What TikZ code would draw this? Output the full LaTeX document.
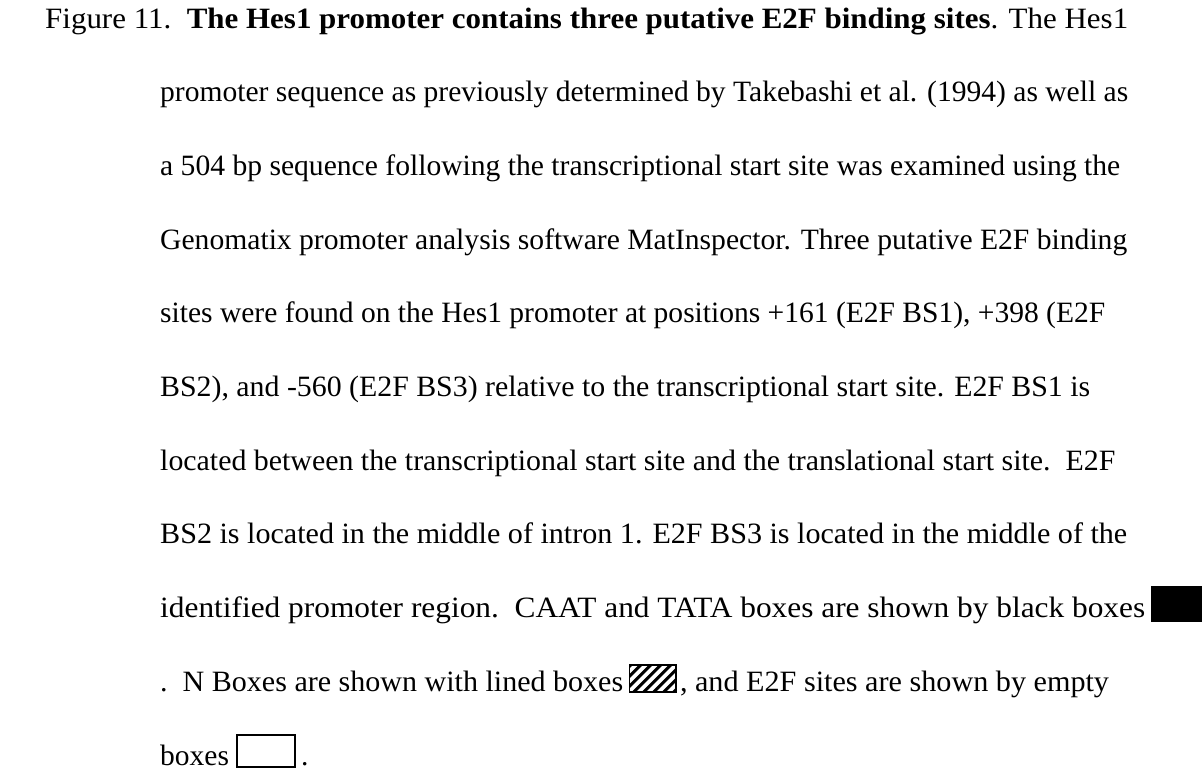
\documentclass[tikz,border=0pt]{standalone}
\usepackage{graphicx}
\usepackage{fontspec}
\setmainfont{Liberation Serif}
\newcommand{\fitline}[2]{\resizebox{#1}{\height}{#2}}
\begin{document}
\begin{tikzpicture}[x=1pt,y=-1pt,
  txt/.style={anchor=base west, inner sep=0pt, font=\fontsize{29.5}{30}\selectfont},
  blackbox/.style={fill=black, draw=none, minimum width=70pt, minimum height=36pt, inner sep=0pt, anchor=south west},
  emptybox/.style={draw=black, line width=1.6pt, fill=white, minimum width=58pt, minimum height=32pt, inner sep=0pt, anchor=south west},
  hatchbox/.style={minimum width=46pt, minimum height=27pt, inner sep=0pt, anchor=south west},
  hatchline/.style={line width=3pt},
  hatchframe/.style={line width=1.8pt}]
\useasboundingbox (0,0) rectangle (1202,777);
\node[txt] (l1) at (45,28) {\fitline{1083pt}{Figure 11.\ \ \textbf{The Hes1 promoter contains three putative E2F binding sites}. The Hes1}};
\node[txt] (l2) at (160,101.7) {\fitline{968pt}{promoter sequence as previously determined by Takebashi et al. (1994) as well as}};
\node[txt] (l3) at (160,175.4) {\fitline{960pt}{a 504 bp sequence following the transcriptional start site was examined using the}};
\node[txt] (l4) at (160,249.1) {\fitline{967pt}{Genomatix promoter analysis software MatInspector. Three putative E2F binding}};
\node[txt] (l5) at (160,322.8) {\fitline{945pt}{sites were found on the Hes1 promoter at positions +161 (E2F BS1), +398 (E2F}};
\node[txt] (l6) at (160,396.5) {\fitline{930pt}{BS2), and -560 (E2F BS3) relative to the transcriptional start site. E2F BS1 is}};
\node[txt] (l7) at (160,470.2) {\fitline{955pt}{located between the transcriptional start site and the translational start site.\ \ E2F}};
\node[txt] (l8) at (160,543.9) {\fitline{967pt}{BS2 is located in the middle of intron 1. E2F BS3 is located in the middle of the}};
\node[txt] (l9) at (160,617.6) {\fitline{985pt}{identified promoter region.\ \ CAAT and TATA boxes are shown by black boxes}};
\node[blackbox] (bb) at ([xshift=5pt,yshift=-5pt]l9.base east) {};
\node[txt] (l10) at (160,691.3) {\fitline{463pt}{.\ \ N Boxes are shown with lined boxes}};
\node[hatchbox] (hb) at ([xshift=6pt,yshift=-1pt]l10.base east) {};
\begin{scope}
  \clip (hb.south west) rectangle (hb.north east);
  \foreach \i in {-36,-26,...,46} {
    \draw[hatchline] ([xshift=\i pt]hb.south west) -- ++(40pt,40pt);
  }
\end{scope}
\draw[hatchframe] (hb.south west) rectangle (hb.north east);
\node[txt] (l10b) at ([xshift=4pt]l10.base east -| hb.east) {\fitline{429pt}{, and E2F sites are shown by empty}};
\node[txt] (l11) at (160,765) {boxes};
\node[emptybox] (eb) at ([xshift=7pt,yshift=-3pt]l11.base east) {};
\node[txt] (l11b) at ([xshift=5pt]l11.base east -| eb.east) {.};
\end{tikzpicture}
\end{document}
